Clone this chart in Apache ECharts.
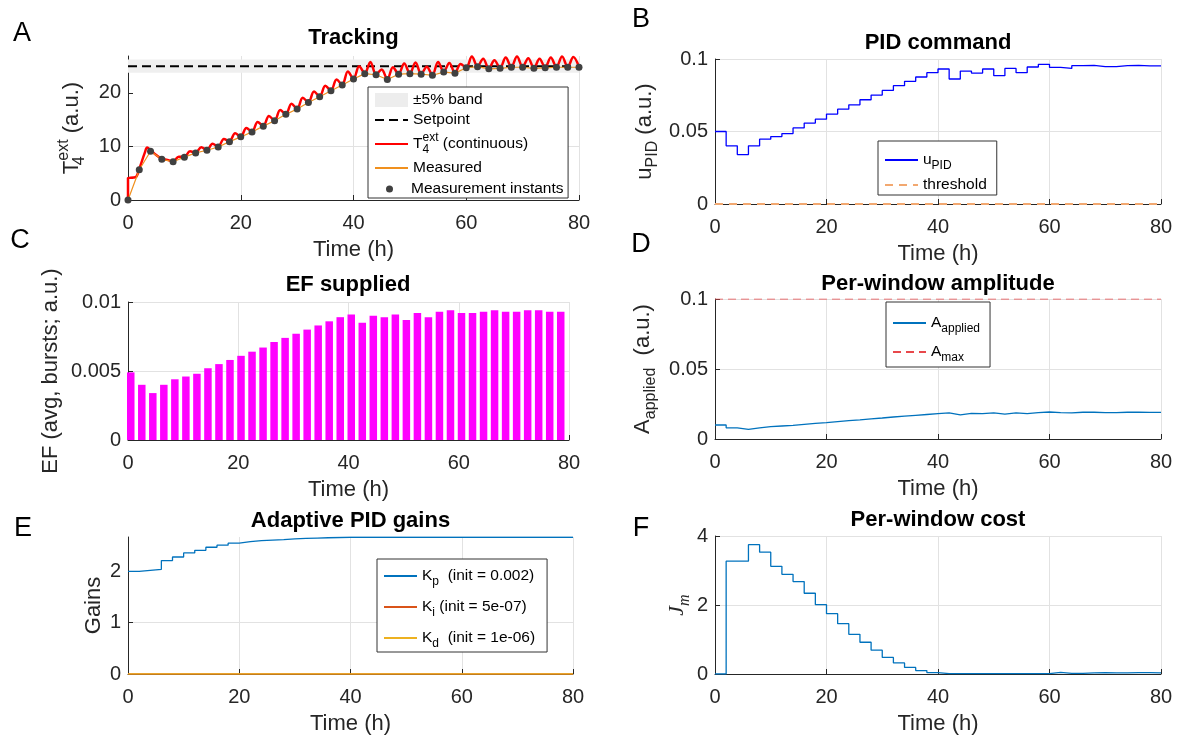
<!DOCTYPE html>
<html><head><meta charset="utf-8">
<script src="https://cdn.jsdelivr.net/npm/echarts@6/dist/echarts.min.js"></script>
<style>html,body{margin:0;padding:0;background:#fff}#c{width:1178px;height:738px}</style>
</head><body><div id="c"></div>
<script>
// ---------- data ----------
const xTicks = [0, 20, 40, 60, 80];
const winT = [0,2,4,6,8,10,12,14,16,18,20,22,24,26,28,30,32,34,36,38,40,42,44,46,48,50,52,54,56,58,60,62,64,66,68,70,72,74,76,78,80];
// Panel A
const setpoint = 25;
const bandFrac = 0.05;
const setT = [0, 80];
const measuredV = [0,5.65,9.1,7.6,7.15,8.0,8.8,9.3,9.9,10.9,11.8,12.7,13.8,14.8,16.0,17.0,18.2,19.3,20.4,21.5,22.6,23.6,23.4,22.5,23.5,23.6,23.5,23.3,23.9,23.7,24.7,24.9,24.5,24.6,24.8,24.8,24.6,24.7,24.8,24.8,24.8];
const redT = [0,0,1,1.5,2,3,3.4,4,5,6,7,8,9,10,11,12,13,14,15,16,17,18,19,20,21,22,23,24,25,26,27,28,29,30,31,32,33,34,35,36,37,38,39,40,41,42,43,44,45,46,47,48,49,50,51,52,53,54,55,56,57,58,59,60,61,62,63,64,65,66,67,68,69,70,71,72,73,74,75,76,77,78,79,80];
const redV = [0,4.1,4.2,4.4,5.8,8.9,9.8,9.3,8.4,7.7,7.5,7.2,8.1,8.05,9.1,8.85,9.85,9.35,10.5,9.95,11.4,10.95,12.45,11.85,13.45,12.75,14.55,13.85,15.7,14.85,16.8,16.05,18.0,17.05,19.1,18.25,20.25,19.35,21.35,20.45,22.5,21.55,24.0,22.65,25.0,23.65,25.8,23.45,24.4,22.55,24.8,23.55,25.5,23.65,25.7,23.55,24.9,23.35,25.8,23.95,25.6,23.75,25.4,24.75,26.8,24.95,26.4,24.55,26.1,24.65,26.6,24.85,26.8,24.85,26.5,24.65,26.4,24.75,26.6,24.85,26.8,24.85,26.7,24.85];
// Panel B
const uPID = [0.0500,0.0401,0.0341,0.0401,0.0447,0.0465,0.0486,0.0525,0.0558,0.0585,0.0620,0.0654,0.0684,0.0719,0.0751,0.0783,0.0816,0.0846,0.0876,0.0906,0.0931,0.0862,0.0917,0.0903,0.0931,0.0885,0.0935,0.0906,0.0945,0.0963,0.0942,0.0935,0.0954,0.0956,0.0947,0.0947,0.0954,0.0956,0.0952,0.0952];
const thresholdT = [0, 80];
const thresholdV = [0, 0];
// Panel C
const efT = [0.5,2.5,4.5,6.5,8.5,10.5,12.5,14.5,16.5,18.5,20.5,22.5,24.5,26.5,28.5,30.5,32.5,34.5,36.5,38.5,40.5,42.5,44.5,46.5,48.5,50.5,52.5,54.5,56.5,58.5,60.5,62.5,64.5,66.5,68.5,70.5,72.5,74.5,76.5,78.5];
const efV = [0.0049,0.0040,0.0034,0.0040,0.0044,0.0046,0.0048,0.0052,0.0055,0.0058,0.0061,0.0064,0.0067,0.0071,0.0074,0.0077,0.0080,0.0083,0.0086,0.0089,0.0091,0.0085,0.0090,0.0089,0.0091,0.0087,0.0092,0.0089,0.0093,0.0094,0.0092,0.0092,0.0093,0.0094,0.0093,0.0093,0.0094,0.0094,0.0093,0.0093];
// Panel D
const aApplied = [0.0100,0.0080,0.0068,0.0080,0.0089,0.0093,0.0097,0.0105,0.0112,0.0117,0.0124,0.0131,0.0137,0.0144,0.0150,0.0157,0.0163,0.0169,0.0175,0.0181,0.0186,0.0172,0.0183,0.0181,0.0186,0.0177,0.0187,0.0181,0.0189,0.0193,0.0188,0.0187,0.0191,0.0191,0.0189,0.0189,0.0191,0.0191,0.0190,0.0190];
const aMaxT = [0, 80];
const aMaxV = [0.1, 0.1];
// Panel E
const kpV = [2.00,2.02,2.04,2.21,2.28,2.36,2.41,2.47,2.51,2.55,2.58,2.60,2.61,2.62,2.635,2.645,2.65,2.655,2.66,2.665,2.665,2.665,2.665,2.665,2.665,2.665,2.665,2.665,2.665,2.665,2.665,2.665,2.665,2.665,2.665,2.665,2.665,2.665,2.665,2.665];
const kiT = [0, 80];
const kiV = [5e-7, 5e-7];
const kdT = [0, 80];
const kdV = [1e-6, 1e-6];
// Panel F
const jCost = [0,3.27,3.27,3.75,3.53,3.12,2.89,2.68,2.34,2.01,1.75,1.46,1.15,0.92,0.69,0.48,0.32,0.19,0.10,0.04,0.01,0.01,0.01,0.01,0.01,0.01,0.01,0.01,0.01,0.01,0.05,0.02,0.02,0.03,0.04,0.03,0.03,0.04,0.04,0.03];

// ---------- helpers ----------
const FF = '"Liberation Sans", Arial, Helvetica, sans-serif';
const AX = '#262626';
const GRID = '#E2E2E2';
function pairs(t, v) { return v.map((y, i) => [t[i], y]); }
function stairs(t, v) { const o = v.map((y, i) => [t[i], y]); o.push([t[v.length], v[v.length - 1]]); return o; }
const rich = {
  n: { fontSize: 15.5, fontFamily: FF, color: '#000', lineHeight: 24, verticalAlign: 'middle' },
  sub: { fontSize: 12, fontFamily: FF, color: '#000', lineHeight: 24, verticalAlign: 'bottom' },
  subz: { fontSize: 12, fontFamily: FF, color: '#000', lineHeight: 24, verticalAlign: 'bottom', width: 0.01 },
  sup: { fontSize: 12, fontFamily: FF, color: '#000', lineHeight: 24, verticalAlign: 'top' }
};
const axRich = {
  n: { fontSize: 22, fontFamily: FF, color: AX, lineHeight: 32, verticalAlign: 'middle' },
  sub: { fontSize: 16, fontFamily: FF, color: AX, lineHeight: 32, verticalAlign: 'bottom' },
  subz: { fontSize: 16, fontFamily: FF, color: AX, lineHeight: 32, verticalAlign: 'bottom', width: 0.01 },
  sup: { fontSize: 16, fontFamily: FF, color: AX, lineHeight: 32, verticalAlign: 'top' },
  j: { fontSize: 22, fontFamily: '"Liberation Serif", "DejaVu Serif", serif', fontStyle: 'italic', color: AX, lineHeight: 32, verticalAlign: 'middle' },
  jsub: { fontSize: 16, fontFamily: '"Liberation Serif", "DejaVu Serif", serif', fontStyle: 'italic', color: AX, lineHeight: 32, verticalAlign: 'bottom' }
};
const legendNames = {
  'T4ext': '{n|T}{subz|4}{sup|ext}{n| (continuous)}',
  'uPID': '{n|u}{sub|PID}',
  'Aapplied': '{n|A}{sub|applied}',
  'Amax': '{n|A}{sub|max}',
  'Kp': '{n|K}{sub|p}{n|  (init = 0.002)}',
  'Ki': '{n|K}{sub|i}{n| (init = 5e-07)}',
  'Kd': '{n|K}{sub|d}{n|  (init = 1e-06)}'
};
function legFmt(name) { return legendNames[name] || ('{n|' + name + '}'); }

const G = [
  { left: 128, top: 56, width: 451, height: 144 },
  { left: 715, top: 59, width: 446, height: 145 },
  { left: 128, top: 302, width: 441, height: 138 },
  { left: 715, top: 299, width: 446, height: 140 },
  { left: 128, top: 537, width: 445, height: 137 },
  { left: 715, top: 536, width: 446, height: 138 }
];

function xAx(i) {
  return {
    type: 'value', gridIndex: i, min: 0, max: 80, interval: 20,
    name: 'Time (h)', nameLocation: 'middle', nameGap: 39,
    nameTextStyle: { fontSize: 22, color: AX, fontFamily: FF },
    axisLine: { show: true, onZero: false, lineStyle: { color: AX, width: 1 } },
    axisTick: { show: true, inside: true, length: 5, lineStyle: { color: AX } },
    axisLabel: { fontSize: 20, color: AX, fontFamily: FF, margin: 13 },
    splitLine: { show: true, lineStyle: { color: GRID, width: 1 } }
  };
}
function yAx(i, min, max, interval, name, gap, labels) {
  const o = {
    type: 'value', gridIndex: i, min: min, max: max, interval: interval,
    name: name, nameLocation: 'middle', nameGap: gap,
    nameTextStyle: { fontSize: 22, color: AX, fontFamily: FF, rich: axRich },
    axisLine: { show: true, onZero: false, lineStyle: { color: AX, width: 1 } },
    axisTick: { show: true, inside: true, length: 5, lineStyle: { color: AX } },
    axisLabel: { fontSize: 20, color: AX, fontFamily: FF, margin: 7 },
    splitLine: { show: true, lineStyle: { color: GRID, width: 1 } }
  };
  if (labels) {
    o.axisLabel.customValues = labels;
    o.axisTick.customValues = labels;
    o.splitLine.showMaxLine = false;
  }
  return o;
}

const titles = [
  ['Tracking', 353.5, 38], ['PID command', 938, 43], ['EF supplied', 348, 285],
  ['Per-window amplitude', 938, 283.5], ['Adaptive PID gains', 350.5, 521], ['Per-window cost', 938, 519.5]
].map(([t, x, y]) => ({
  text: t, left: x, top: y - 12, textAlign: 'center', padding: 0,
  textStyle: { fontSize: 22, fontWeight: 'bold', color: '#000', fontFamily: FF, lineHeight: 24 }
}));

const letters = [['A', 22, 34], ['B', 641, 20], ['C', 20, 241], ['D', 641, 245], ['E', 23, 529], ['F', 641, 529]]
  .map(([t, x, y]) => ({ type: 'text', x: x, y: y, style: { text: t, fontSize: 27, fontFamily: FF, fill: '#000', textAlign: 'center', textVerticalAlign: 'middle' } }));

const legBase = {
  orient: 'vertical', selectedMode: false, itemWidth: 33, itemHeight: 14,
  backgroundColor: '#fff', borderColor: '#333', borderWidth: 1, borderRadius: 0,
  itemStyle: { opacity: 0 },
  textStyle: { fontSize: 15.5, color: '#000', fontFamily: FF, rich: rich },
  formatter: legFmt
};

const option = {
  animation: false,
  backgroundColor: '#fff',
  title: titles,
  graphic: letters,
  grid: G.map(g => Object.assign({ containLabel: false }, g)),
  xAxis: [0, 1, 2, 3, 4, 5].map(xAx),
  yAxis: [
    yAx(0, 0, 26.9, 10, '{n|T}{subz|4}{sup|ext}{n| (a.u.)}', 40, [0, 10, 20]),
    yAx(1, 0, 0.1, 0.05, '{n|u}{sub|PID}{n| (a.u.)}', 54),
    yAx(2, 0, 0.01, 0.005, 'EF (avg, bursts; a.u.)', 66),
    yAx(3, 0, 0.1, 0.05, '{n|A}{sub|applied}{n|  (a.u.)}', 56),
    yAx(4, 0, 2.67, 1, 'Gains', 23, [0, 1, 2]),
    yAx(5, 0, 4, 2, '{j|J}{jsub|m}', 22)
  ],
  legend: [
    Object.assign({}, legBase, {
      left: 368, top: 87, padding: [5, 40, 22, 6], itemGap: 4,
      data: [{ name: '±5% band', icon: 'rect', itemStyle: { color: '#EDEDED', opacity: 1, borderWidth: 0 } }, 'Setpoint', 'T4ext', 'Measured']
    }),
    Object.assign({}, legBase, {
      left: 386, top: 181, padding: 0, itemHeight: 7, backgroundColor: 'transparent', borderWidth: 0,
      itemStyle: { opacity: 1 },
      data: ['Measurement instants']
    }),
    Object.assign({}, legBase, { left: 878, top: 141, padding: [11, 10, 2, 6], itemGap: 5, data: ['uPID', 'threshold'] }),
    Object.assign({}, legBase, { left: 886, top: 302, padding: [13, 10, 3, 6], itemGap: 9, data: ['Aapplied', 'Amax'] }),
    Object.assign({}, legBase, { left: 377, top: 559, padding: [9, 12, 2, 6], itemGap: 11, data: ['Kp', 'Ki', 'Kd'] })
  ],
  series: [
    // A
    { type: 'line', name: '±5% band', xAxisIndex: 0, yAxisIndex: 0, symbol: 'none', silent: true, z: 1,
      data: pairs(setT, [setpoint, setpoint]), lineStyle: { width: 0, opacity: 0 }, itemStyle: { color: '#EDEDED' },
      markArea: { silent: true, itemStyle: { color: '#EFEFEF', opacity: 1 },
        data: [[{ yAxis: setpoint * (1 - bandFrac) }, { yAxis: setpoint * (1 + bandFrac) }]] } },
    { type: 'line', name: 'Setpoint', xAxisIndex: 0, yAxisIndex: 0, symbol: 'none', z: 2,
      data: pairs(setT, [setpoint, setpoint]), lineStyle: { color: '#000', width: 2, type: [9, 5] }, itemStyle: { color: '#000' } },
    { type: 'line', name: 'T4ext', xAxisIndex: 0, yAxisIndex: 0, symbol: 'none', smooth: 0.35, z: 3,
      data: pairs(redT, redV), lineStyle: { color: '#FF0000', width: 2.5 }, itemStyle: { color: '#FF0000' } },
    { type: 'line', name: 'Measured', xAxisIndex: 0, yAxisIndex: 0, symbol: 'none', z: 4,
      data: pairs(winT, measuredV), lineStyle: { color: '#F0901E', width: 1.2 }, itemStyle: { color: '#F0901E' } },
    { type: 'scatter', name: 'Measurement instants', xAxisIndex: 0, yAxisIndex: 0, symbol: 'circle', symbolSize: 7, z: 5,
      data: pairs(winT, measuredV), itemStyle: { color: '#404040', opacity: 1 } },
    // B
    { type: 'line', name: 'uPID', xAxisIndex: 1, yAxisIndex: 1, symbol: 'none', step: 'end',
      data: stairs(winT, uPID), lineStyle: { color: '#0000FF', width: 1.3 }, itemStyle: { color: '#0000FF' } },
    { type: 'line', name: 'threshold', xAxisIndex: 1, yAxisIndex: 1, symbol: 'none',
      data: pairs(thresholdT, thresholdV), lineStyle: { color: '#F2A870', width: 2, type: [8, 6] }, itemStyle: { color: '#F2A870' } },
    // C
    { type: 'bar', name: 'EF', xAxisIndex: 2, yAxisIndex: 2, barWidth: 7.5,
      data: pairs(efT, efV), itemStyle: { color: '#FF00FF' } },
    // D
    { type: 'line', name: 'Aapplied', xAxisIndex: 3, yAxisIndex: 3, symbol: 'none', step: 'end',
      data: stairs(winT, aApplied), lineStyle: { color: '#0072BD', width: 1.3 }, itemStyle: { color: '#0072BD' } },
    { type: 'line', name: 'Amax', xAxisIndex: 3, yAxisIndex: 3, symbol: 'none',
      data: pairs(aMaxT, aMaxV), lineStyle: { color: '#E8484B', width: 1.2, type: [8, 5] }, itemStyle: { color: '#E8484B' } },
    // E
    { type: 'line', name: 'Kp', xAxisIndex: 4, yAxisIndex: 4, symbol: 'none', step: 'end',
      data: stairs(winT, kpV), lineStyle: { color: '#0072BD', width: 1.3 }, itemStyle: { color: '#0072BD' } },
    { type: 'line', name: 'Ki', xAxisIndex: 4, yAxisIndex: 4, symbol: 'none', step: 'end',
      data: pairs(kiT, kiV), lineStyle: { color: '#D95319', width: 1.3 }, itemStyle: { color: '#D95319' } },
    { type: 'line', name: 'Kd', xAxisIndex: 4, yAxisIndex: 4, symbol: 'none', step: 'end',
      data: pairs(kdT, kdV), lineStyle: { color: '#EDB120', width: 1.3 }, itemStyle: { color: '#EDB120' } },
    // F
    { type: 'line', name: 'Jm', xAxisIndex: 5, yAxisIndex: 5, symbol: 'none', step: 'end',
      data: stairs(winT, jCost), lineStyle: { color: '#0072BD', width: 1.3 }, itemStyle: { color: '#0072BD' } }
  ]
};
const chart = echarts.init(document.getElementById('c'), null, { renderer: 'canvas' });
chart.setOption(option);
</script>
</body></html>
